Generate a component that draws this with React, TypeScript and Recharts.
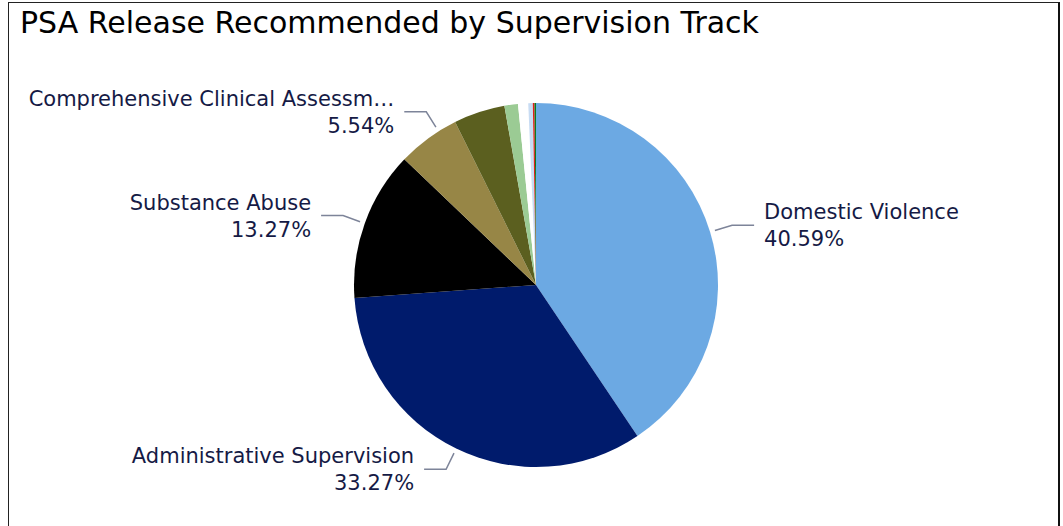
import { Cell, Pie, PieChart } from "recharts"

const tracks = [
  "Domestic Violence",
  "Administrative Supervision",
  "Substance Abuse",
  "Comprehensive Clinical Assessment",
  "Mental Health",
  "Veterans",
  "DUI",
  "Drug Court",
  "Sex Offense",
  "Other",
]
const shares = [40.59, 33.27, 13.27, 5.54, 4.55, 1.2, 0.9, 0.4, 0.15, 0.13]
const COLORS = ["#6CA9E3", "#001B6C", "#000000", "#978646", "#5B5F1F", "#9BCB94", "#FFFFFF", "#C8DCF3", "#E0201B", "#0B7A22"]
const LABELED = 4

const data = tracks.map((name, i) => ({ name, value: shares[i] }))

const RADIAN = Math.PI / 180
const FONT = "'DejaVu Sans', sans-serif"

const shorten = (s: string) => (s.length > 30 ? s.slice(0, 30) + "\u2026" : s)

const renderLabel = (props: any) => {
  const { cx, cy, midAngle, outerRadius, index, name, percent } = props
  if (index >= LABELED) return null
  // nudge the top-left label up a bit so it clears the others, like power bi does
  const angle = index === 3 ? midAngle - 4 : midAngle
  const cos = Math.cos(-angle * RADIAN)
  const sin = Math.sin(-angle * RADIAN)
  const sx = cx + (outerRadius + 5) * cos
  const sy = cy + (outerRadius + 5) * sin
  const mx = cx + (outerRadius + 23) * cos
  const my = cy + (outerRadius + 23) * sin
  const right = cos >= 0
  const ex = mx + (right ? 22 : -22)
  const tx = ex + (right ? 10 : -10)
  const anchor = right ? "start" : "end"
  return (
    <g>
      <polyline points={`${sx},${sy} ${mx},${my} ${ex},${my}`} fill="none" stroke="#7D8499" strokeWidth={1.5} />
      <text x={tx} y={my - 6} textAnchor={anchor} fill="#151A45" fontSize={21} fontFamily={FONT}>
        {shorten(name)}
      </text>
      <text x={tx} y={my + 21} textAnchor={anchor} fill="#151A45" fontSize={21} fontFamily={FONT}>
        {(percent * 100).toFixed(2)}%
      </text>
    </g>
  )
}

export default function App() {
  return (
    <div style={{ position: "absolute", left: 0, top: 0, width: 1063, height: 526, background: "#fff", overflow: "hidden" }}>
      <div
        style={{
          position: "absolute",
          left: 8,
          top: 2,
          width: 1049,
          height: 540,
          borderLeft: "1.5px solid #222",
          borderTop: "1.5px solid #222",
          borderRight: "2.5px solid #111",
        }}
      />
      <div
        style={{
          position: "absolute",
          left: 20,
          top: 8,
          fontFamily: FONT,
          fontSize: 30,
          lineHeight: "30px",
          color: "#000",
          whiteSpace: "nowrap",
        }}
      >
        PSA Release Recommended by Supervision Track
      </div>
      <div style={{ position: "absolute", left: 0, top: 0 }}>
        <PieChart width={1063} height={526}>
          <Pie
            data={data}
            dataKey="value"
            nameKey="name"
            cx={531}
            cy={280}
            outerRadius={182}
            startAngle={90}
            endAngle={-270}
            stroke="none"
            label={renderLabel}
            labelLine={false}
            isAnimationActive={false}
          >
            {data.map((entry, index) => (
              <Cell key={`cell-${index}`} fill={COLORS[index % COLORS.length]} />
            ))}
          </Pie>
        </PieChart>
      </div>
    </div>
  )
}
